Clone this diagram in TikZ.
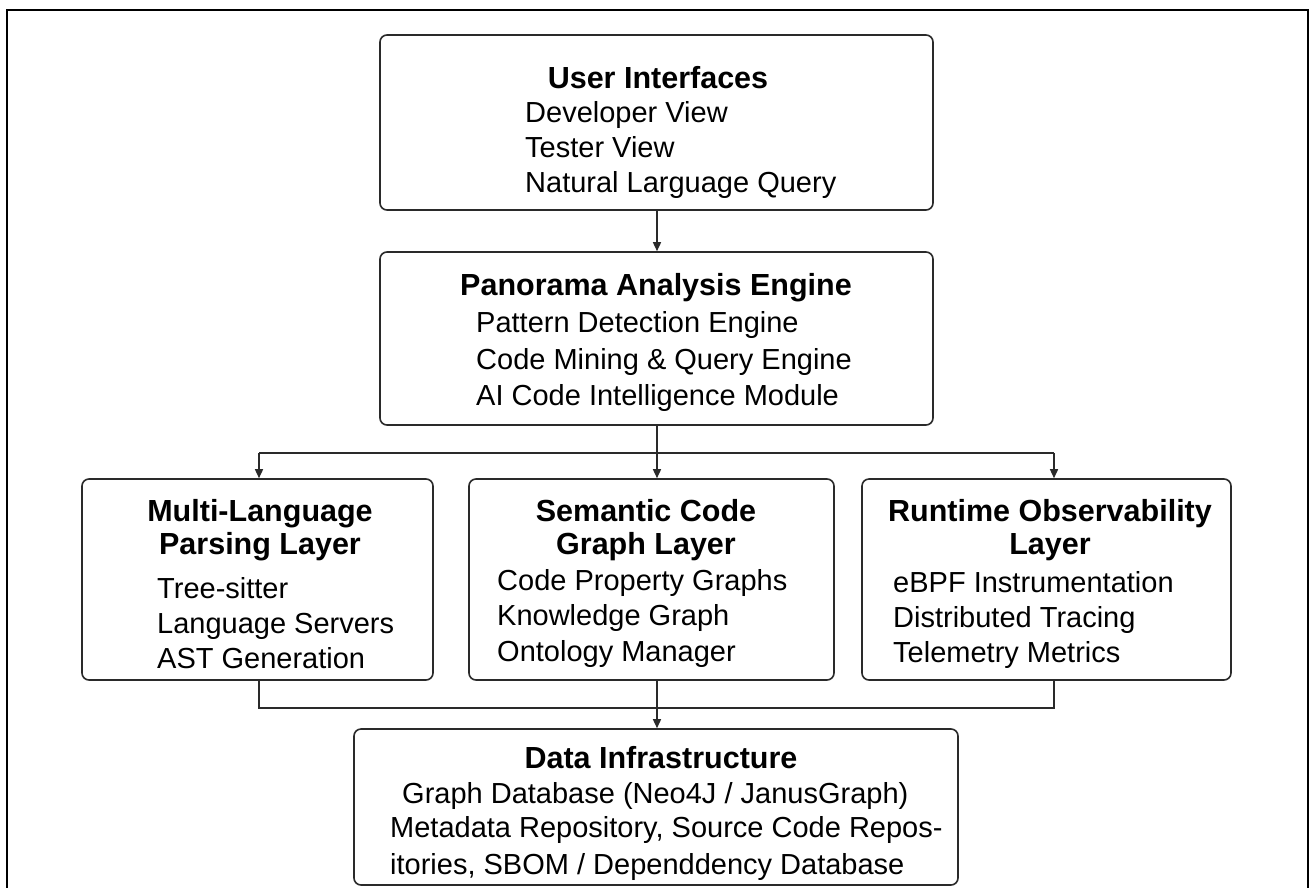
\documentclass[tikz,border=0pt]{standalone}
\usepackage{fontspec}
\setmainfont{Liberation Sans}
\usetikzlibrary{arrows.meta}
\newcommand\itemfnt{\fontsize{29}{35}\selectfont}
\newcommand\ttlfnt{\bfseries\fontsize{30.5}{33}\selectfont}
\definecolor{lineclr}{HTML}{2A2A2A}
\tikzset{
  boxnode/.style={draw=lineclr, line width=1.6pt, rounded corners=7pt, inner sep=0pt},
  itm/.style={anchor=west, inner sep=0pt, text height=21pt, text depth=0pt, font=\itemfnt},
  ttl/.style={anchor=center, inner sep=0pt, text height=22pt, text depth=0pt, font=\ttlfnt},
  conn/.style={draw=lineclr, line width=1.5pt},
  arr/.style={conn, -{Triangle[length=9pt,width=8pt]}},
  frame/.style={draw=black, line width=2.6pt}
}
\begin{document}
\begin{tikzpicture}[x=1pt, y=-1pt]
\useasboundingbox (0,0) rectangle (1311,887);
\fill[white] (0,0) rectangle (1311,887);
\draw[frame] (7,895) -- (7,10) -- (1308,10) -- (1308,895);

% boxes
\node[boxnode, minimum width=553pt, minimum height=175pt] (ui) at (656.5,122.5) {};
\node[boxnode, minimum width=553pt, minimum height=173pt] (pae) at (656.5,338.5) {};
\node[boxnode, minimum width=351pt, minimum height=201pt] (mlp) at (257.5,579.5) {};
\node[boxnode, minimum width=365pt, minimum height=201pt] (scg) at (651.5,579.5) {};
\node[boxnode, minimum width=369pt, minimum height=201pt] (rol) at (1046.5,579.5) {};
\node[boxnode, minimum width=604pt, minimum height=156pt] (data) at (656,807) {};

% User Interfaces
\node[ttl] (uit) at (658,77) {User Interfaces};
\node[itm] (ui1) at (525,112) {Developer View};
\node[itm] (ui2) at (525,147) {Tester View};
\node[itm] (ui3) at (525,182) {Natural Larguage Query};

% Panorama
\node[ttl] (paet) at (656,284) {Panorama Analysis Engine};
\node[itm] (pae1) at (476,322) {Pattern Detection Engine};
\node[itm] (pae2) at (476,358.5) {Code Mining \& Query Engine};
\node[itm] (pae3) at (476,395) {AI Code Intelligence Module};

% Multi-language
\node[ttl] (mlpt1) at (260,510) {Multi-Language};
\node[ttl] (mlpt2) at (260,543) {Parsing Layer};
\node[itm] (mlp1) at (157,588) {Tree-sitter};
\node[itm] (mlp2) at (157,623) {Language Servers};
\node[itm] (mlp3) at (157,658) {AST Generation};

% Semantic
\node[ttl] (scgt1) at (646,510) {Semantic Code};
\node[ttl] (scgt2) at (646,543) {Graph Layer};
\node[itm] (scg1) at (497,580) {Code Property Graphs};
\node[itm] (scg2) at (497,615) {Knowledge Graph};
\node[itm] (scg3) at (497,651) {Ontology Manager};

% Runtime
\node[ttl] (rolt1) at (1050,510) {Runtime Observability};
\node[ttl] (rolt2) at (1050,543) {Layer};
\node[itm] (rol1) at (893,582) {eBPF Instrumentation};
\node[itm] (rol2) at (893,617) {Distributed Tracing};
\node[itm] (rol3) at (893,652) {Telemetry Metrics};

% Data
\node[ttl] (datat) at (661,757) {Data Infrastructure};
\node[itm] (data1) at (402,793) {Graph Database (Neo4J / JanusGraph)};
\node[itm] (data2) at (390,827) {Metadata Repository, Source Code Repos-};
\node[itm] (data3) at (390,864) {itories, SBOM / Dependdency Database};

% connectors
\coordinate (hl) at (657,453);
\coordinate (sl) at (259,453);
\coordinate (sr) at (1054,453);
\coordinate (bl) at (259,708);
\coordinate (br) at (1054,708);
\coordinate (bm) at (657,708);

\draw[arr] (ui.south -| hl) -- (pae.north -| hl);
\draw[conn] (pae.south -| hl) -- (hl);
\draw[conn] (sl) -- (sr);
\draw[arr] (sl) -- (sl |- mlp.north);
\draw[arr] (hl) -- (hl |- scg.north);
\draw[arr] (sr) -- (sr |- rol.north);
\draw[conn] (bl |- mlp.south) -- (bl) -- (br) -- (br |- rol.south);
\draw[arr] (bm |- scg.south) -- (bm |- data.north);
\end{tikzpicture}
\end{document}
